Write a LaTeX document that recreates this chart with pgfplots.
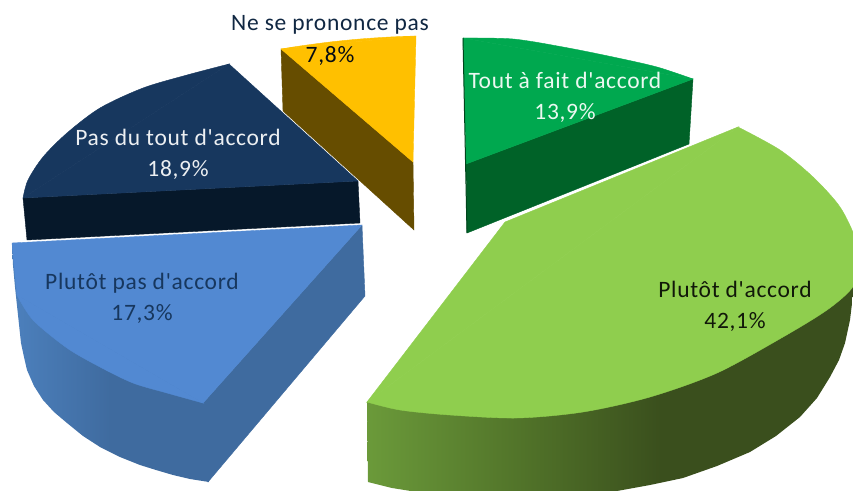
\documentclass[border=0pt]{standalone}
\usepackage{pgfplots}
\pgfplotsset{compat=1.18}
\usepackage{fontspec}
\setmainfont{Carlito}[Ligatures=TeXOff,LetterSpace=3]
\definecolor{ytop}{HTML}{FFC000}
\definecolor{yside}{HTML}{664D00}
\definecolor{ntop}{HTML}{17375E}
\definecolor{nside}{HTML}{06182A}
\definecolor{btop}{HTML}{5289D2}
\definecolor{bside}{HTML}{3F6B9F}
\definecolor{bsideL}{HTML}{4C80BD}
\definecolor{gtop}{HTML}{00A84F}
\definecolor{gside}{HTML}{006228}
\definecolor{ltop}{HTML}{8FCE4E}
\definecolor{lsideL}{HTML}{6B9A3A}
\definecolor{lsideM}{HTML}{4F7028}
\definecolor{lsideD}{HTML}{3A4F1D}
\pgfdeclarehorizontalshading{greenside}{100bp}{color(0bp)=(lsideL); color(25bp)=(lsideL); color(42bp)=(lsideM); color(55bp)=(lsideD); color(100bp)=(lsideD)}
\pgfdeclarehorizontalshading{blueside}{100bp}{color(0bp)=(bsideL); color(25bp)=(bsideL); color(50bp)=(bside); color(100bp)=(bside)}
\begin{document}
\begin{tikzpicture}
\path[use as bounding box] (0,0) rectangle (853pt,490pt);
\begin{axis}[
  at={(0,0)}, anchor=south west,
  scale only axis, width=853pt, height=490pt,
  xmin=0, xmax=853, ymin=0, ymax=490, y dir=reverse,
  axis lines=none, no markers,
]
% Ne se prononce pas
\addplot[draw=yside, fill=yside, line width=0.4pt] coordinates {(281,49)(413,162)(414,230)(283,111)} --cycle;
\addplot[draw=ytop, fill=ytop, smooth, line width=0.4pt] coordinates {(281,49)(300,46)(330,42)(360,39)(390,37)(416,36)} --cycle;
\addplot[draw=ytop, fill=ytop, line width=0.4pt] coordinates {(281,49)(416,36)(413,162)} --cycle;
% Pas du tout d'accord
\addplot[draw=nside, fill=nside, line width=0.4pt] coordinates {(23,198)(358,181)(360,223)(27,240)} --cycle;
\addplot[draw=ntop, fill=ntop, smooth, line width=0.4pt] coordinates {(229,64)(187,75)(143,88)(100,108)(67,133)(43,157)(28,180)(23,198)} --cycle;
\addplot[draw=ntop, fill=ntop, line width=0.4pt] coordinates {(229,64)(23,198)(358,181)} --cycle;
% Plutot pas d'accord
\addplot[draw=none, shading=blueside] coordinates {(12,243)(13,265)(15,287)(18,315)(21,343)(24,357)(27,370)(34,386)(43,400)(54,412)(67,423)(83,436)(100,447)(120,457)(140,465)(156,470)(173,475)(190,479)(209,482)(205,403)} --cycle;
\addplot[draw=bside, fill=bside, line width=0.4pt] coordinates {(203,403)(208,482)(365,296)(362,225)} --cycle;
\addplot[draw=btop, fill=btop, smooth, line width=0.4pt] coordinates {(17,295)(33,320)(67,348)(100,367)(133,383)(167,393)(203,403)} --cycle;
\addplot[draw=btop, fill=btop, line width=0.4pt] coordinates {(12,243)(17,295)(203,403)(362,225)} --cycle;
% Tout a fait d'accord
\addplot[draw=gside, fill=gside, line width=0.4pt] coordinates {(466,164)(693,79)(689,144)(467,233)} --cycle;
\addplot[draw=gtop, fill=gtop, smooth, line width=0.4pt] coordinates {(463,38)(513,39)(563,47)(613,57)(657,67)(693,79)} --cycle;
\addplot[draw=gtop, fill=gtop, line width=0.4pt] coordinates {(463,38)(693,79)(466,164)} --cycle;
\addplot[draw=gside!70!black, line width=1pt] coordinates {(463,38)(467,233)};
% Plutot d'accord
\addplot[draw=none, shading=greenside] coordinates {(367,402)(368,482)(392,488)(417,492)(448,496)(480,498)(515,499)(550,498)(584,495)(617,491)(650,485)(683,478)(717,466)(750,452)(776,436)(800,417)(817,398)(830,377)(839,360)(845,343)(850,320)(853,295)(858,275)} --cycle;
\addplot[draw=ltop, fill=ltop, smooth, line width=0.4pt] coordinates {(738,127)(780,150)(813,177)(840,207)(856,240)(860,265)(852,288)(827,310)(783,337)(717,373)(650,397)(583,412)(517,418)(450,415)(400,410)(367,402)} --cycle;
\addplot[draw=ltop, fill=ltop, line width=0.4pt] coordinates {(738,127)(367,402)(505,222)} --cycle;
% Labels
\tikzset{lab/.style={align=center, inner sep=0pt, font=\fontsize{23.5}{31}\selectfont}}
\node[lab, text=ntop!70!black] at (axis cs:330,25) {Ne se prononce pas};
\node[lab, text=black!80!ntop] at (axis cs:330,56) {7,8\%};
\node[lab, text=white!92!gtop] at (axis cs:565,97) {Tout à fait d'accord\\13,9\%};
\node[lab, text=white!92!ntop] at (axis cs:178,154) {Pas du tout d'accord\\18,9\%};
\node[lab, text=ntop] at (axis cs:142,298) {Plutôt pas d'accord\\17,3\%};
\node[lab, text=black!70!lsideD] at (axis cs:735,306) {Plutôt d'accord\\42,1\%};
\end{axis}
\end{tikzpicture}
\end{document}
